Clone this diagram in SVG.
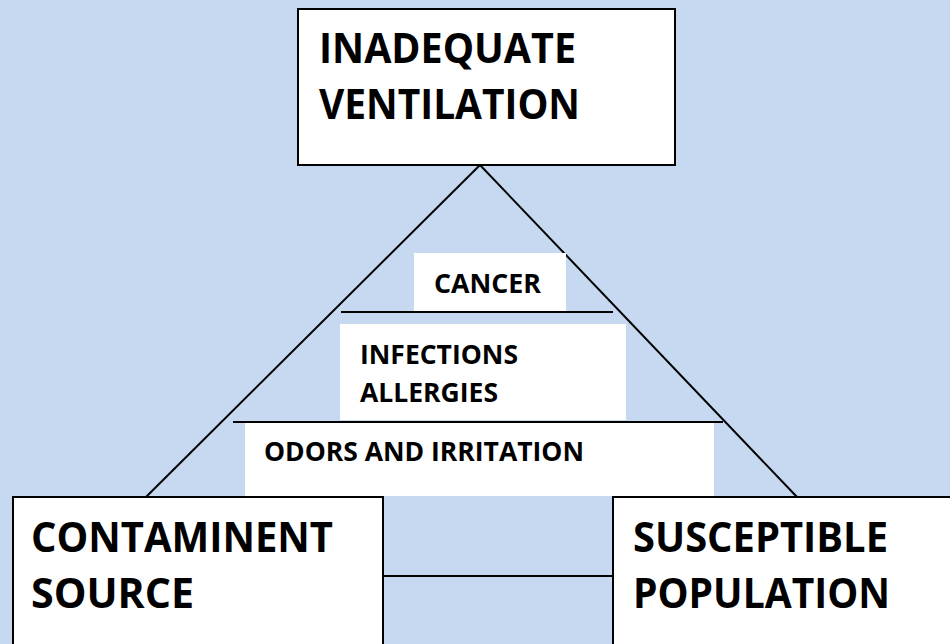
<svg xmlns="http://www.w3.org/2000/svg" width="950" height="644" viewBox="0 0 950 644">
<style>
.box{fill:#fff;stroke:#000;stroke-width:2}
.band{fill:#fff}
.ln{stroke:#000;stroke-width:2;fill:none}
.big{font-family:"Open Sans","Liberation Sans",sans-serif;font-weight:bold;font-size:42px;fill:#000}
.sm{font-family:"Open Sans","Liberation Sans",sans-serif;font-weight:bold;font-size:27px;fill:#000}
</style>
<rect width="950" height="644" fill="#C6D9F1"/>
<g id="connectors">
<line class="ln" x1="480" y1="165" x2="146" y2="497"/>
<line class="ln" x1="480" y1="165" x2="797" y2="497"/>
<line class="ln" x1="341" y1="312" x2="613" y2="312"/>
<line class="ln" x1="233" y1="422" x2="723" y2="422"/>
<line class="ln" x1="383" y1="576" x2="613" y2="576"/>
</g>
<g id="inadequate-ventilation">
<rect class="box" x="298" y="9" width="377" height="156"/>
<text class="big" x="319" y="63" textLength="257" lengthAdjust="spacingAndGlyphs">INADEQUATE</text>
<text class="big" x="319" y="119" textLength="261" lengthAdjust="spacingAndGlyphs">VENTILATION</text>
</g>
<g id="cancer">
<rect class="band" x="414" y="253" width="152" height="58"/>
<text class="sm" x="434" y="293" textLength="107" lengthAdjust="spacingAndGlyphs">CANCER</text>
</g>
<g id="infections-allergies">
<rect class="band" x="340" y="324" width="286" height="96"/>
<text class="sm" x="360" y="364" textLength="158" lengthAdjust="spacingAndGlyphs">INFECTIONS</text>
<text class="sm" x="360" y="402" textLength="138" lengthAdjust="spacingAndGlyphs">ALLERGIES</text>
</g>
<g id="odors-irritation">
<rect class="band" x="245" y="423" width="469" height="73"/>
<text class="sm" x="264" y="461" textLength="320" lengthAdjust="spacingAndGlyphs">ODORS AND IRRITATION</text>
</g>
<g id="contaminent-source">
<rect class="box" x="13" y="497" width="370" height="170"/>
<text class="big" x="31" y="552" textLength="302" lengthAdjust="spacingAndGlyphs">CONTAMINENT</text>
<text class="big" x="31" y="608" textLength="163" lengthAdjust="spacingAndGlyphs">SOURCE</text>
</g>
<g id="susceptible-population">
<rect class="box" x="613" y="497" width="360" height="170"/>
<text class="big" x="633" y="552" textLength="255" lengthAdjust="spacingAndGlyphs">SUSCEPTIBLE</text>
<text class="big" x="633" y="608" textLength="257" lengthAdjust="spacingAndGlyphs">POPULATION</text>
</g>
</svg>
